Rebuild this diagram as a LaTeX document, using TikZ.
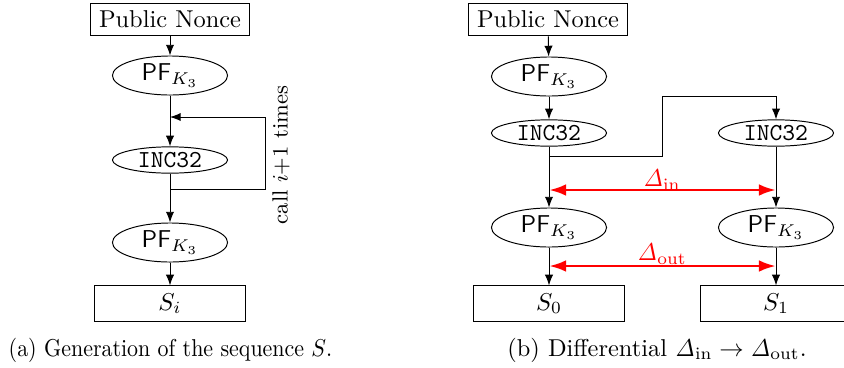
\documentclass[tikz,border=0pt]{standalone}
\usetikzlibrary{shapes.geometric,arrows.meta}
\begin{document}
\begin{tikzpicture}[x=0.41pt,y=-0.41pt,
  boxnode/.style={draw,rectangle,inner sep=0pt},
  pnbox/.style={boxnode,minimum width=64.8pt,minimum height=13.5pt},
  sbox/.style={boxnode,minimum width=62.3pt,minimum height=14.4pt},
  pfnode/.style={draw,ellipse,inner sep=0pt,minimum width=47.2pt,minimum height=16pt},
  incnode/.style={draw,ellipse,inner sep=0pt,minimum width=47.2pt,minimum height=10.8pt},
  conn/.style={-{Latex[length=4.4pt,width=3.4pt]}},
  diffarrow/.style={red,line width=1.2pt,{Latex[length=7pt,width=4.8pt]}-{Latex[length=7pt,width=4.8pt]}},
  redlabel/.style={red,inner sep=1pt}]
\useasboundingbox (0,0) rectangle (844,367);
\newcommand{\pfk}{\textsf{PF}$_{K_3}$}
% ---------- (a) ----------
\node[pnbox] (pnA) at (170,19.5) {Public Nonce};
\node[pfnode] (pfA1) at (170,75.5) {\pfk};
\node[incnode] (incA) at (170,160) {\texttt{INC32}};
\node[pfnode] (pfA2) at (170,242.5) {\pfk};
\node[sbox] (sA) at (170,303.5) {$S_i$};
\coordinate (loopA) at (170,189);
\coordinate (loopB) at (265,189);
\coordinate (loopC) at (265,117);
\coordinate (loopD) at (170,117);
\draw[conn] (pnA) -- (pfA1);
\draw[conn] (pfA1) -- (incA);
\draw[conn] (incA) -- (pfA2);
\draw[conn] (pfA2) -- (sA);
\draw[conn] (loopA) -- (loopB) -- (loopC) -- (loopD);
\node[rotate=90,font=\small] (calllbl) at (281,155) {call $i{+}1$ times};
\node (capA) at (170.5,350) {\scalebox{0.9}[1]{(a) Generation of the sequence $S$.}};
% ---------- (b) ----------
\node[pnbox] (pnB) at (548,19.5) {Public Nonce};
\node[pfnode] (pfB) at (549,76.5) {\pfk};
\node[incnode] (incL) at (549,133) {\texttt{INC32}};
\node[incnode] (incR) at (776,133) {\texttt{INC32}};
\node[pfnode] (pfL) at (549,227.5) {\pfk};
\node[pfnode] (pfR) at (776,227.5) {\pfk};
\node[sbox] (sL) at (549,303.5) {$S_0$};
\node[sbox] (sR) at (776,303.5) {$S_1$};
\coordinate (brA) at (549,156);
\coordinate (brB) at (662,156);
\coordinate (brC) at (662,96);
\coordinate (brD) at (776,96);
\draw[conn] (pnB) -- (pfB);
\draw[conn] (pfB) -- (incL);
\draw[conn] (incL) -- (pfL);
\draw[conn] (incR) -- (pfR);
\draw[conn] (brA) -- (brB) -- (brC) -- (brD) -- (incR);
\draw[conn] (pfL) -- (sL);
\draw[conn] (pfR) -- (sR);
\coordinate (dinL) at (549,190);
\coordinate (dinR) at (776,190);
\coordinate (doutL) at (549,266);
\coordinate (doutR) at (776,266);
\draw[diffarrow] (dinL) -- (dinR);
\draw[diffarrow] (doutL) -- (doutR);
\node[redlabel] (dinlbl) at (662,180) {$\mathit{\Delta}_{\mathrm{in}}$};
\node[redlabel] (doutlbl) at (662,254) {$\mathit{\Delta}_{\mathrm{out}}$};
\node (capB) at (657,350) {(b) Differential $\mathit{\Delta}_{\mathrm{in}}\rightarrow\mathit{\Delta}_{\mathrm{out}}$.};
\end{tikzpicture}
\end{document}
